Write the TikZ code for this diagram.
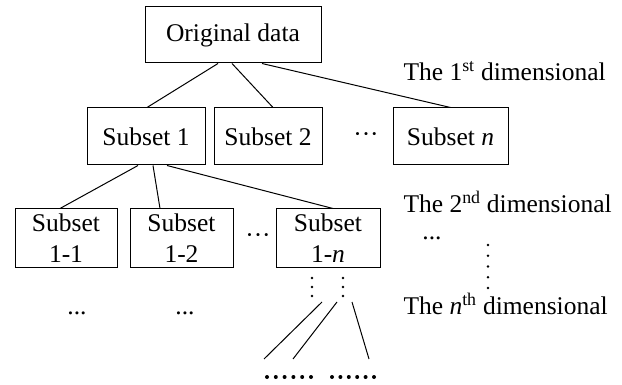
\documentclass[tikz,border=0pt]{standalone}
\usepackage{fontspec}
\setmainfont{Liberation Serif}
\usepackage{tikz}
\tikzset{every picture/.style={line width=1pt}}

\begin{document}
\begin{tikzpicture}[x=1pt,y=-1pt,
    font=\fontsize{25.5}{31}\selectfont,
    box/.style={draw, align=center, inner sep=0pt},
    lbl/.style={anchor=base west, inner sep=0pt},
    dd/.style={inner sep=0pt}]
        \useasboundingbox (0,0) rectangle (622,385);

        % the tree of subsets
        \node[box,minimum width=176pt,minimum height=56pt] (orig) at (233,35) {Original data};
        \node[box,minimum width=118pt,minimum height=57pt] (s1) at (146,136.5) {Subset 1};
        \node[box,minimum width=108pt,minimum height=57pt] (s2) at (268,136.5) {Subset 2};
        \node[box,minimum width=115pt,minimum height=57pt] (sn) at (450.5,136.5) {Subset \textit{n}};
        \node[box,minimum width=102pt,minimum height=59pt] (s11) at (66,238.5) {Subset\\1-1};
        \node[box,minimum width=103pt,minimum height=59pt] (s12) at (181.5,238.5) {Subset\\1-2};
        \node[box,minimum width=104pt,minimum height=59pt] (s1n) at (328,238.5) {Subset\\1-\textit{n}};

        \node[dd] (d1) at (366,138) {\textperiodcentered\textperiodcentered\textperiodcentered};
        \node[dd] (d2) at (258,239) {\textperiodcentered\textperiodcentered\textperiodcentered};
        \node[dd] (d3) at (77,313) {...};
        \node[dd] (d4) at (185,313) {...};
        \node[dd] (d5) at (432,238) {...};

        % levels on the right
        \node[lbl] (dim1) at (403,81) {The 1\textsuperscript{st} dimensional};
        \node[lbl] (dim2) at (403,213) {The 2\textsuperscript{nd} dimensional};
        \node[lbl] (dimn) at (403,315) {The \textit{n}\textsuperscript{th} dimensional};

        \draw
            ([xshift=-15pt]orig.south) -- ([xshift=1pt]s1.north)
            ([xshift=-1pt]orig.south) -- ([xshift=5pt]s2.north)
            ([xshift=29pt]orig.south) -- (sn.north)
            ([xshift=-8pt]s1.south) -- ([xshift=-6pt]s11.north)
            ([xshift=7pt]s1.south) -- ([xshift=-21.5pt]s12.north)
            ([xshift=21pt]s1.south) -- ([xshift=5pt]s1n.north)
            ;

        % below subset 1-n
        \foreach \y in {278,287,296} {
            \fill (312,\y) circle (1.4pt);
            \fill (343,\y) circle (1.4pt);
        }
        \foreach \i in {0,...,4}
            \fill (488,245+10.75*\i) circle (1.4pt);
        \foreach \i in {0,...,5} {
            \fill (267+8.8*\i,377) circle (2pt);
            \fill (332+8.4*\i,377) circle (2pt);
        }

        \coordinate (a1) at (322,302);
        \coordinate (a2) at (337,302);
        \coordinate (a3) at (352,302);
        \coordinate (b1) at (264,359);
        \coordinate (b2) at (293,359);
        \coordinate (b3) at (369,359);
        \draw (a1) -- (b1) (a2) -- (b2) (a3) -- (b3);
\end{tikzpicture}
\end{document}
